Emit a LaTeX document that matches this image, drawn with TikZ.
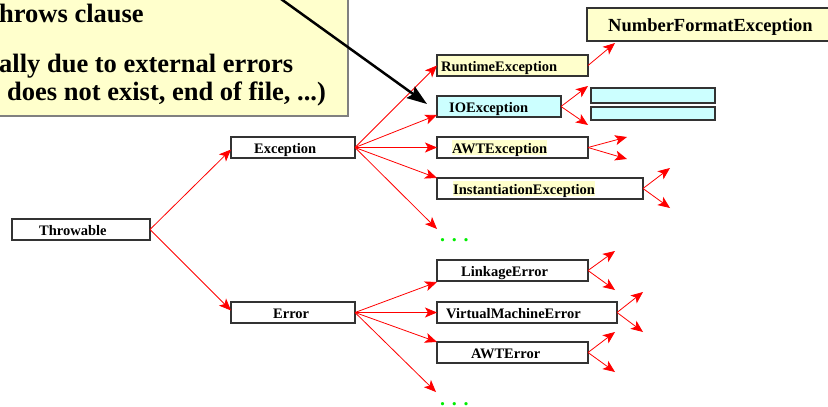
\documentclass[tikz,border=0pt]{standalone}
\usepackage{fontspec}
\setmainfont{Liberation Serif}
\usetikzlibrary{arrows.meta,calc}
\definecolor{ylw}{HTML}{FFFFCC}
\definecolor{cyn}{HTML}{CCFFFF}
\definecolor{grn}{HTML}{00EE00}
\begin{document}
\begin{tikzpicture}[x=1pt,y=-1pt,
  cls/.style={draw=black!80, line width=1.1pt, minimum height=21pt, inner sep=0pt, outer sep=0pt, anchor=north west},
  lbl/.style={anchor=west, inner xsep=0pt, inner ysep=1.5pt, text height=12pt, text depth=0pt, font=\bfseries\fontsize{14.5}{17}\selectfont},
  hl/.style={lbl, fill=ylw},
  rarr/.style={draw=red, line width=0.8pt, -{Stealth[length=12pt,width=10pt,inset=3pt]}},
  dots/.style={text=grn, inner sep=0pt, anchor=base west, font=\bfseries\fontsize{20}{22}\selectfont},
  callout/.style={inner sep=0pt, anchor=base west, font=\bfseries\fontsize{26.5}{30}\selectfont}]
\useasboundingbox (0,0) rectangle (828,407);
\clip (0,0) rectangle (828,407);

% callout
\draw[fill=ylw, draw=gray, line width=2.5pt] (-20,-20) rectangle (348,116);
\node[callout] (c1) at (-1,22) {hrows clause};
\node[callout] (c2) at (-1,72.5) {ally due to external errors};
\node[callout] (c3) at (7,100) {does not exist, end of file, ...)};

% class boxes
\node[cls, minimum width=138, label={[lbl, xshift=27pt]west:Throwable}] (thr) at (12,219) {};
\node[cls, minimum width=124, label={[lbl, xshift=23pt]west:Exception}] (exc) at (231,137) {};
\node[cls, minimum width=124, label={[lbl, xshift=42pt]west:Error}] (err) at (231,302) {};

\node[cls, fill=ylw, minimum width=151, label={[lbl, xshift=4pt]west:RuntimeException}] (rte) at (437,55) {};
\node[cls, fill=cyn, minimum width=124, label={[lbl, xshift=12pt]west:IOException}] (ioe) at (437,96) {};
\node[cls, minimum width=151, label={[hl, xshift=15pt]west:AWTException}] (awte) at (437,137) {};
\node[cls, minimum width=206, label={[hl, xshift=16pt]west:InstantiationException}] (inst) at (437,178) {};

\node[cls, minimum width=151, label={[lbl, xshift=24pt]west:LinkageError}] (link) at (437,260) {};
\node[cls, minimum width=180, label={[lbl, xshift=9pt]west:VirtualMachineError}] (vme) at (437,302) {};
\node[cls, minimum width=151, label={[lbl, xshift=34pt]west:AWTError}] (awterr) at (437,342) {};

\node[cls, fill=ylw, minimum width=260, minimum height=33pt,
  label={[lbl, xshift=21pt, text height=14pt, font=\bfseries\fontsize{18.5}{21}\selectfont]west:NumberFormatException}] (nfe) at (587,8) {};
\node[cls, fill=cyn, minimum width=124, minimum height=15pt] (cy1) at (591,88) {};
\node[cls, fill=cyn, minimum width=124, minimum height=13pt] (cy2) at (591,107) {};

\node[dots] (d1) at (440,241) {. . .};
\node[dots] (d2) at (440,405) {. . .};
\coordinate (d1t) at (437,229);
\coordinate (d2t) at (436,392);

% arrows from Throwable
\draw[rarr] (thr.east) -- ([yshift=-2pt]exc.west);
\draw[rarr] (thr.east) -- ([yshift=2pt]err.west);

% arrows from Exception
\draw[rarr] (exc.east) -- (rte.west);
\draw[rarr] (exc.east) -- ([yshift=2pt]ioe.south west);
\draw[rarr] (exc.east) -- (awte.west);
\draw[rarr] (exc.east) -- (inst.north west);
\draw[rarr] (exc.east) -- (d1t);

% arrows from Error
\draw[rarr] (err.east) -- ([yshift=-1pt]link.south west);
\draw[rarr] (err.east) -- (vme.west);
\draw[rarr] (err.east) -- (awterr.north west);
\draw[rarr] (err.east) -- (d2t);

% leaf arrows
\coordinate (r1) at (615,43);
\coordinate (i1) at (588,86);
\coordinate (i2) at (588,125);
\coordinate (a1) at (627,137);
\coordinate (a2) at (627,159);
\coordinate (n1) at (670,168);
\coordinate (n2) at (670,208);
\coordinate (l1) at (615,251);
\coordinate (l2) at (615,290);
\coordinate (v1) at (643,292);
\coordinate (v2) at (643,332);
\coordinate (e1) at (615,332);
\coordinate (e2) at (615,372);
\draw[rarr] (rte.east) -- (r1);
\draw[rarr] (ioe.east) -- (i1);
\draw[rarr] (ioe.east) -- (i2);
\draw[rarr] (awte.east) -- (a1);
\draw[rarr] (awte.east) -- (a2);
\draw[rarr] (inst.east) -- (n1);
\draw[rarr] (inst.east) -- (n2);
\draw[rarr] (link.east) -- (l1);
\draw[rarr] (link.east) -- (l2);
\draw[rarr] (vme.east) -- (v1);
\draw[rarr] (vme.east) -- (v2);
\draw[rarr] (awterr.east) -- (e1);
\draw[rarr] (awterr.east) -- (e2);

% black pointer
\coordinate (bp) at (281,-1);
\coordinate (bt) at (427,104);
\draw[line width=2.5pt, -{Stealth[length=20pt,width=14pt,inset=3pt]}] (bp) -- (bt);
\end{tikzpicture}
\end{document}
